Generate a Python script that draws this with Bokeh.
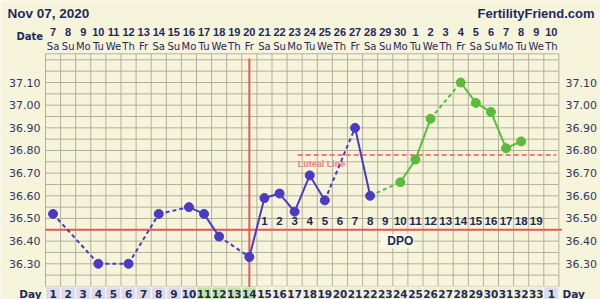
from bokeh.plotting import figure
from bokeh.models import Range1d
from bokeh.embed import file_html
from bokeh.resources import INLINE
from bokeh.core.properties import value

# ---------------- data ----------------
chart_date = "Nov 07, 2020"
site_name = "FertilityFriend.com"

cycle_days = list(range(1, 35))
day_numbers = ["1", "2", "3", "4", "5", "6", "7", "8", "9", "10", "11", "12", "13", "14",
               "15", "16", "17", "18", "19", "20", "21", "22", "23", "24", "25", "26", "27",
               "28", "29", "30", "31", "32", "33", "1"]
date_numbers = ["7", "8", "9", "10", "11", "12", "13", "14", "15", "16", "17", "18", "19",
                "20", "21", "22", "23", "24", "25", "26", "27", "28", "29", "30", "1", "2",
                "3", "4", "5", "6", "7", "8", "9", "10"]
weekdays = ["Sa", "Su", "Mo", "Tu", "We", "Th", "Fr", "Sa", "Su", "Mo", "Tu", "We", "Th",
            "Fr", "Sa", "Su", "Mo", "Tu", "We", "Th", "Fr", "Sa", "Su", "Mo", "Tu", "We",
            "Th", "Fr", "Sa", "Su", "Mo", "Tu", "We", "Th"]

temp_days = [1, 4, 6, 8, 10, 11, 12, 14, 15, 16, 17, 18, 19, 21, 22,
             24, 25, 26, 28, 29, 30, 31, 32]
temps = [36.52, 36.30, 36.30, 36.52, 36.55, 36.52, 36.42, 36.33, 36.59, 36.61, 36.53,
         36.69, 36.58, 36.90, 36.60,
         36.66, 36.76, 36.94, 37.10, 37.01, 36.97, 36.81, 36.84]
green_from_day = 24

fertile_days = [11, 12, 13, 14]
pre_days = [1, 2, 3, 4, 5, 6, 7, 8, 9, 10]
next_cycle_days = [34]

ovulation_day = 14
coverline = 36.45
luteal_level = 36.78
luteal_start, luteal_end = 17.2, 34.3

dpo_days = list(range(15, 34))
dpo_labels = ["1", "2", "3", "4", "5", "6", "7", "8", "9", "10", "11", "12", "13", "14",
              "15", "16", "17", "18", "19"]
dpo_title_day, dpo_title_temp = 24, 36.40

y_ticks = [36.30, 36.40, 36.50, 36.60, 36.70, 36.80, 36.90, 37.00, 37.10]
y_tick_labels = ["36.30", "36.40", "36.50", "36.60", "36.70", "36.80", "36.90", "37.00", "37.10"]
y_grid = [36.20, 36.25, 36.30, 36.35, 36.40, 36.45, 36.50, 36.55, 36.60, 36.65, 36.70,
          36.75, 36.80, 36.85, 36.90, 36.95, 37.00, 37.05, 37.10, 37.15, 37.20]

# ---------------- geometry / styles ----------------
BG = "#f7f4dc"
GRID = "#b4b09c"
NAVY = "#1d2a5e"
TICK = "#2e3764"
BLUE = "#4a3cc2"
GREEN = "#5bbb3b"
RED = "#e05c58"
PINK = "#f27c7c"

X0, COL = 45.0, 15.1          # grid left edge (px) and column width (px)
Y0, TOPV, PXD = 53.3, 37.2267, 226.6  # grid top (px), its value, px per degree
W, H = 600, 299

def xd(px):
    return 0.5 + (px - X0) / COL

def yd(py):
    return TOPV - (py - Y0) / PXD

grid_left, grid_right = 0.5, 34.5
row_top = 36.198

p = figure(width=W, height=H, output_backend="svg", toolbar_location=None,
           x_range=Range1d(xd(0), xd(W)), y_range=Range1d(yd(H), yd(0)),
           x_axis_location=None, y_axis_location=None,
           min_border=0, min_border_left=0, min_border_right=0,
           min_border_top=0, min_border_bottom=0)
p.background_fill_color = BG
p.border_fill_color = BG
p.outline_line_color = None
p.grid.grid_line_color = None

# grid
vx = [d + 0.5 for d in range(0, 35)]
p.segment(x0=vx, x1=vx, y0=[row_top] * len(vx), y1=[TOPV] * len(vx),
          line_color=GRID, line_width=1)
hy = y_grid + [TOPV]
p.segment(x0=[grid_left] * len(hy), x1=[grid_right] * len(hy), y0=hy, y1=hy,
          line_color=GRID, line_width=1)

# bottom day row
def row_color(d):
    if d in fertile_days:
        return "#c3e3a4"
    if d in pre_days or d in next_cycle_days:
        return "#dcdbe7"
    return "#efebd0"

p.quad(left=[d - 0.5 for d in cycle_days], right=[d + 0.5 for d in cycle_days],
       top=row_top, bottom=yd(H) - 0.02, fill_color=[row_color(d) for d in cycle_days],
       line_color="#ffffff", line_alpha=0.8, line_width=1)
p.text(x=cycle_days, y=[yd(293.3)] * len(cycle_days), text=day_numbers,
       text_align="center", text_baseline="middle", text_color=NAVY,
       text_font=value("DejaVu Sans"), text_font_style="bold", text_font_size="10.5px")

# coverline and ovulation line
p.segment(x0=[grid_left], x1=[grid_right + 0.2], y0=[coverline], y1=[coverline],
          line_color=RED, line_width=2)
p.segment(x0=[ovulation_day], x1=[ovulation_day], y0=[row_top], y1=[yd(58)],
          line_color=RED, line_width=2)

# luteal line
p.segment(x0=[luteal_start], x1=[luteal_end], y0=[luteal_level], y1=[luteal_level],
          line_color=PINK, line_width=2, line_dash="5 3")
p.text(x=[luteal_start], y=[luteal_level - 0.017], text=["Luteal Line"], text_align="left",
       text_baseline="top", text_color=PINK, text_font=value("Liberation Sans"),
       text_font_style="bold", text_font_size="9px")

# DPO numbers and title
p.text(x=dpo_days, y=[36.49] * len(dpo_days), text=dpo_labels, text_align="center",
       text_baseline="middle", text_color=NAVY, text_font=value("Liberation Sans"),
       text_font_style="bold", text_font_size="11.5px")
p.quad(left=[dpo_title_day - 1.3], right=[dpo_title_day + 0.9],
       top=[dpo_title_temp + 0.033], bottom=[dpo_title_temp - 0.033],
       fill_color="#faf8e8", line_color=None)
p.text(x=[dpo_title_day], y=[dpo_title_temp], text=["DPO"], text_align="center",
       text_baseline="middle", text_color=NAVY, text_font=value("Liberation Sans"),
       text_font_style="bold", text_font_size="12px")

# temperature lines
for a, b, ta, tb in zip(temp_days[:-1], temp_days[1:], temps[:-1], temps[1:]):
    col = GREEN if b >= green_from_day else BLUE
    dash = "solid" if b - a == 1 else "4 3"
    p.line([a, b], [ta, tb], line_color=col, line_width=2, line_dash=dash)
p.scatter([d for d in temp_days if d < green_from_day],
          [t for d, t in zip(temp_days, temps) if d < green_from_day],
          size=9, color=BLUE)
p.scatter([d for d in temp_days if d >= green_from_day],
          [t for d, t in zip(temp_days, temps) if d >= green_from_day],
          size=9, color=GREEN)

# temperature scale labels, both sides
p.text(x=[xd(40)] * len(y_ticks), y=y_ticks, text=y_tick_labels, text_align="right",
       text_baseline="middle", text_color=TICK, text_font=value("DejaVu Sans"),
       text_font_size="11px")
p.text(x=[xd(565)] * len(y_ticks), y=y_ticks, text=y_tick_labels, text_align="left",
       text_baseline="middle", text_color=TICK, text_font=value("DejaVu Sans"),
       text_font_size="11px")

# date rows above the grid
p.text(x=cycle_days, y=[yd(31.5)] * len(cycle_days), text=date_numbers, text_align="center",
       text_baseline="middle", text_color=NAVY, text_font=value("Liberation Sans"),
       text_font_style="bold", text_font_size="11px")
p.text(x=cycle_days, y=[yd(46)] * len(cycle_days), text=weekdays, text_align="center",
       text_baseline="middle", text_color=NAVY, text_font=value("DejaVu Sans"),
       text_font_size="10px")

# header and row titles
p.text(x=[xd(7)], y=[yd(13)], text=[chart_date], text_align="left", text_baseline="middle",
       text_color=NAVY, text_font=value("Liberation Sans"), text_font_style="bold",
       text_font_size="13.5px")
p.text(x=[xd(594)], y=[yd(13)], text=[site_name], text_align="right", text_baseline="middle",
       text_color=NAVY, text_font=value("Liberation Sans"), text_font_style="bold",
       text_font_size="13px")
p.text(x=[xd(16)], y=[yd(36)], text=["Date"], text_align="left", text_baseline="middle",
       text_color=NAVY, text_font=value("DejaVu Sans"), text_font_style="bold",
       text_font_size="10px")
p.text(x=[xd(41)], y=[yd(293.3)], text=["Day"], text_align="right", text_baseline="middle",
       text_color=NAVY, text_font=value("DejaVu Sans"), text_font_style="bold",
       text_font_size="10.5px")
p.text(x=[xd(562)], y=[yd(293.3)], text=["Day"], text_align="left", text_baseline="middle",
       text_color=NAVY, text_font=value("DejaVu Sans"), text_font_style="bold",
       text_font_size="10.5px")

open("out.html", "w").write(file_html(p, INLINE))
